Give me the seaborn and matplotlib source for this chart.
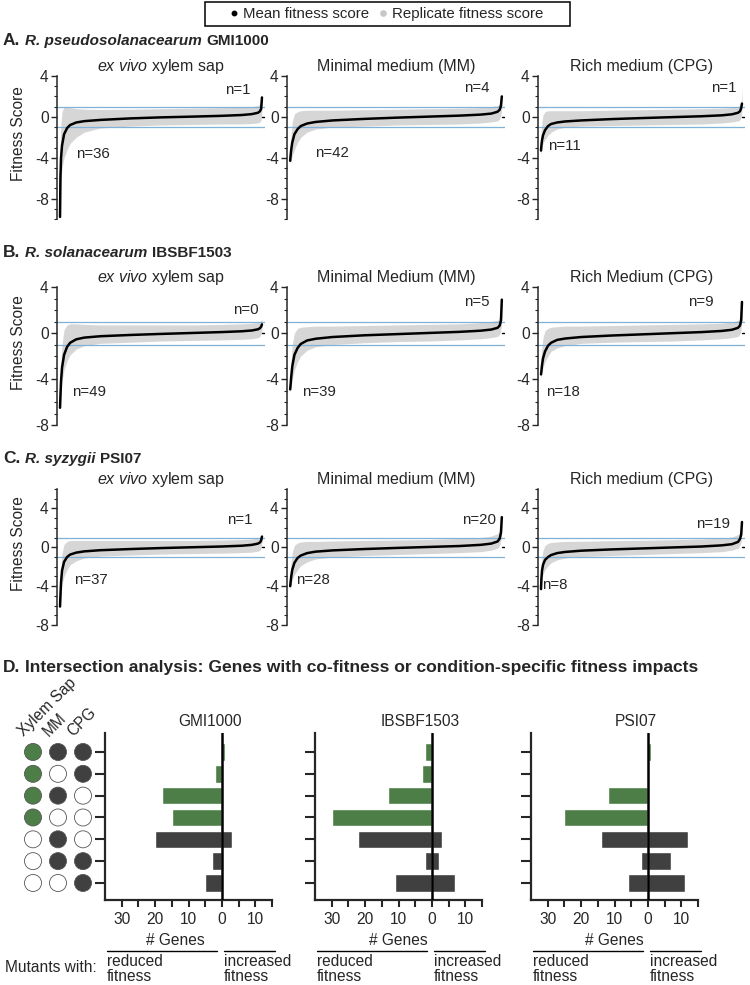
import matplotlib
matplotlib.use("Agg")
import matplotlib.pyplot as plt
import numpy as np
import pandas as pd
import seaborn as sns
from matplotlib.lines import Line2D
from matplotlib.patches import Rectangle
from matplotlib.ticker import MultipleLocator, FixedLocator, FuncFormatter

# ---------------------------------------------------------------- data
# rank fraction of genes (sorted by mean fitness) at which the curves were read
RANK = [0.0, 0.002, 0.005, 0.01, 0.02, 0.035, 0.05, 0.08, 0.12, 0.2,
        0.35, 0.5, 0.65, 0.8, 0.9, 0.95, 0.98, 0.99, 0.996, 1.0]

# A. GMI1000
GMI_XYLEM_MEAN = [-9.8, -6.0, -4.0, -2.8, -1.7, -1.1, -0.8, -0.55, -0.42, -0.3,
                  -0.15, -0.05, 0.02, 0.1, 0.18, 0.27, 0.4, 0.55, 0.8, 1.9]
GMI_XYLEM_LOW = [-10, -8, -6, -5, -4, -3.2, -2.6, -2.0, -1.5, -1.1,
                 -0.9, -0.8, -0.75, -0.7, -0.7, -0.65, -0.6, -0.5, -0.3, 0.5]
GMI_XYLEM_HIGH = [-4, -2, -0.6, 0.5, 1.0, 1.0, 0.9, 0.8, 0.75, 0.72,
                  0.75, 0.8, 0.85, 0.9, 0.95, 1.0, 1.1, 1.3, 1.6, 2.2]
GMI_MM_MEAN = [-4.3, -3.8, -3.2, -2.5, -1.7, -1.2, -0.9, -0.65, -0.5, -0.35,
               -0.2, -0.08, 0.02, 0.12, 0.22, 0.32, 0.5, 0.7, 1.1, 2.0]
GMI_MM_LOW = [-4.6, -4.4, -4.2, -3.8, -3.2, -2.5, -2.0, -1.5, -1.2, -1.0,
              -0.9, -0.8, -0.75, -0.7, -0.6, -0.5, -0.4, -0.2, 0.2, 1.0]
GMI_MM_HIGH = [-3.5, -2.5, -1.5, -0.5, 0.3, 0.5, 0.6, 0.65, 0.65, 0.65,
               0.7, 0.75, 0.8, 0.85, 0.9, 1.0, 1.1, 1.3, 1.8, 2.3]
GMI_CPG_MEAN = [-3.3, -2.8, -2.3, -1.8, -1.3, -0.9, -0.7, -0.55, -0.45, -0.35,
                -0.22, -0.12, -0.03, 0.06, 0.15, 0.25, 0.4, 0.55, 0.85, 1.3]
GMI_CPG_LOW = [-3.8, -3.5, -3.0, -2.6, -2.2, -1.8, -1.5, -1.2, -1.0, -0.9,
               -0.85, -0.8, -0.75, -0.7, -0.6, -0.5, -0.4, -0.3, 0.0, 0.8]
GMI_CPG_HIGH = [-2.0, -1.2, -0.5, 0.2, 0.5, 0.6, 0.6, 0.6, 0.6, 0.6,
                0.65, 0.7, 0.75, 0.8, 0.85, 0.9, 1.0, 1.2, 1.4, 2.8]

# B. IBSBF1503
IBS_XYLEM_MEAN = [-6.5, -5.5, -4.2, -3.0, -1.9, -1.2, -0.85, -0.55, -0.4, -0.28,
                  -0.17, -0.08, 0.0, 0.08, 0.15, 0.22, 0.32, 0.42, 0.55, 0.75]
IBS_XYLEM_LOW = [-6.8, -6.2, -5.2, -4.2, -3.2, -2.4, -1.9, -1.4, -1.1, -0.9,
                 -0.8, -0.7, -0.65, -0.6, -0.55, -0.5, -0.4, -0.3, -0.1, 0.3]
IBS_XYLEM_HIGH = [-5.5, -4.0, -2.5, -1.0, 0.3, 0.7, 0.8, 0.8, 0.75, 0.7,
                  0.7, 0.7, 0.7, 0.75, 0.8, 0.85, 0.9, 1.0, 1.1, 1.2]
IBS_MM_MEAN = [-4.9, -4.5, -3.8, -2.9, -1.9, -1.3, -0.95, -0.65, -0.5, -0.35,
               -0.2, -0.1, 0.0, 0.1, 0.2, 0.3, 0.45, 0.65, 1.1, 2.9]
IBS_MM_LOW = [-5.2, -5.0, -4.6, -4.0, -3.2, -2.5, -2.0, -1.5, -1.2, -1.0,
              -0.85, -0.75, -0.7, -0.6, -0.5, -0.4, -0.3, -0.1, 0.3, 1.5]
IBS_MM_HIGH = [-4.0, -3.2, -2.2, -1.0, 0.0, 0.4, 0.5, 0.55, 0.6, 0.6,
               0.65, 0.7, 0.75, 0.8, 0.9, 1.0, 1.1, 1.3, 1.8, 3.0]
IBS_CPG_MEAN = [-3.6, -3.3, -2.8, -2.2, -1.6, -1.1, -0.85, -0.6, -0.48, -0.35,
                -0.22, -0.12, -0.02, 0.08, 0.18, 0.28, 0.45, 0.65, 1.1, 2.7]
IBS_CPG_LOW = [-4.0, -3.8, -3.4, -3.0, -2.5, -2.0, -1.6, -1.3, -1.1, -0.9,
               -0.8, -0.75, -0.7, -0.6, -0.5, -0.4, -0.3, -0.1, 0.3, 1.5]
IBS_CPG_HIGH = [-2.5, -1.8, -1.2, -0.4, 0.2, 0.4, 0.5, 0.55, 0.6, 0.6,
                0.65, 0.7, 0.75, 0.8, 0.85, 0.95, 1.1, 1.3, 1.8, 2.9]

# C. PSI07
PSI_XYLEM_MEAN = [-6.1, -5.0, -3.6, -2.4, -1.5, -1.0, -0.75, -0.55, -0.42, -0.3,
                  -0.18, -0.08, 0.0, 0.08, 0.16, 0.25, 0.38, 0.5, 0.7, 1.1]
PSI_XYLEM_LOW = [-6.4, -5.8, -4.8, -3.8, -3.0, -2.3, -1.8, -1.4, -1.1, -0.9,
                 -0.8, -0.7, -0.65, -0.6, -0.55, -0.5, -0.4, -0.3, -0.1, 0.5]
PSI_XYLEM_HIGH = [-5.0, -3.5, -2.0, -0.6, 0.3, 0.6, 0.7, 0.7, 0.7, 0.7,
                  0.7, 0.7, 0.7, 0.75, 0.8, 0.85, 0.95, 1.05, 1.2, 1.5]
PSI_MM_MEAN = [-4.0, -3.6, -3.0, -2.3, -1.6, -1.1, -0.85, -0.6, -0.45, -0.32,
               -0.18, -0.07, 0.03, 0.13, 0.25, 0.38, 0.6, 0.9, 1.5, 3.1]
PSI_MM_LOW = [-4.4, -4.2, -3.8, -3.3, -2.8, -2.3, -1.9, -1.5, -1.2, -1.0,
              -0.85, -0.75, -0.65, -0.55, -0.45, -0.3, -0.1, 0.2, 0.7, 2.0]
PSI_MM_HIGH = [-3.0, -2.2, -1.4, -0.5, 0.2, 0.45, 0.55, 0.6, 0.6, 0.65,
               0.7, 0.75, 0.8, 0.9, 1.0, 1.15, 1.4, 1.8, 2.4, 3.3]
PSI_CPG_MEAN = [-4.3, -3.2, -2.4, -1.8, -1.3, -1.0, -0.8, -0.6, -0.48, -0.35,
                -0.22, -0.12, -0.02, 0.08, 0.2, 0.32, 0.55, 0.85, 1.3, 2.6]
PSI_CPG_LOW = [-4.6, -4.0, -3.4, -2.8, -2.3, -1.9, -1.6, -1.3, -1.1, -0.95,
               -0.85, -0.75, -0.65, -0.55, -0.45, -0.3, -0.1, 0.2, 0.6, 1.8]
PSI_CPG_HIGH = [-3.0, -2.0, -1.0, -0.3, 0.2, 0.4, 0.5, 0.55, 0.6, 0.62,
                0.68, 0.72, 0.78, 0.85, 0.95, 1.05, 1.3, 1.6, 2.1, 2.9]

# number of genes below / above the thresholds (per row: xylem, MM, CPG)
N_LOW = [[36, 42, 11], [49, 39, 18], [37, 28, 8]]
N_HIGH = [[1, 4, 1], [0, 5, 9], [1, 20, 19]]

STRAIN_TITLES = [("A.", "R. pseudosolanacearum", "GMI1000"),
                 ("B.", "R. solanacearum", "IBSBF1503"),
                 ("C.", "R. syzygii", "PSI07")]
CONDITIONS = [[r"$\mathit{ex\ vivo}$ xylem sap", "Minimal medium (MM)", "Rich medium (CPG)"],
              [r"$\mathit{ex\ vivo}$ xylem sap", "Minimal Medium (MM)", "Rich Medium (CPG)"],
              [r"$\mathit{ex\ vivo}$ xylem sap", "Minimal medium (MM)", "Rich medium (CPG)"]]

# D. intersection analysis
ROW_LABELS = ["Xylem+MM+CPG", "Xylem+CPG", "Xylem+MM", "Xylem", "MM", "MM+CPG", "CPG"]
XYLEM = [1, 1, 1, 1, 0, 0, 0]
MM = [1, 0, 1, 0, 1, 1, 0]
CPG = [1, 1, 0, 0, 0, 1, 1]
SET_NAMES = ["Xylem Sap", "MM", "CPG"]
STRAINS = ["GMI1000", "IBSBF1503", "PSI07"]
GMI_REDUCED = [0, 2, 18, 15, 20, 3, 5]
GMI_INCREASED = [1, 0, 0, 0, 3, 0, 0]
IBS_REDUCED = [2, 3, 13, 30, 22, 2, 11]
IBS_INCREASED = [0, 0, 0, 0, 3, 2, 7]
PSI_REDUCED = [0, 0, 12, 25, 14, 2, 6]
PSI_INCREASED = [1, 0, 0, 0, 12, 7, 11]

# ---------------------------------------------------------------- style
sns.set_theme(style="ticks")
plt.rcParams['font.family'] = ['Liberation Sans', 'DejaVu Sans']
plt.rcParams['mathtext.fontset'] = 'custom'
plt.rcParams['mathtext.rm'] = 'Liberation Sans'
plt.rcParams['mathtext.it'] = 'Liberation Sans:italic'
plt.rcParams['mathtext.bf'] = 'Liberation Sans:bold'
plt.rcParams['axes.unicode_minus'] = False

GREEN = "#4e7e48"
DARK = "#404040"
BAND = "#d6d6d6"
BLUE = "#7fb2d6"
FS = 10.8

W, H, DPI = 750, 985, 100
fig = plt.figure(figsize=(W / DPI, H / DPI), dpi=DPI)
fig.patch.set_facecolor("white")


def add_ax(x0, y0, x1, y1):
    return fig.add_axes([x0 / W, 1 - y1 / H, (x1 - x0) / W, (y1 - y0) / H])


renderer = fig.canvas.get_renderer()


def rich(x_px, y_px, pieces):
    x = x_px
    for s, size, weight, style in pieces:
        t = fig.text(x / W, 1 - y_px / H, s, fontsize=size, fontweight=weight,
                     fontstyle=style, ha='left', va='baseline')
        w = t.get_window_extent(renderer).width
        x += w + 0.28 * size * DPI / 72


# ---------------------------------------------------------------- legend
fig.add_artist(Rectangle((205 / W, 1 - 26 / H), 365 / W, 24 / H, transform=fig.transFigure,
                         fill=False, ec='black', lw=1.1))
handles = [Line2D([], [], marker='o', ls='', color='black', markersize=3.2),
           Line2D([], [], marker='o', ls='', color='#c8c8c8', markersize=3.8)]
fig.legend(handles, ["Mean fitness score", "Replicate fitness score"], loc='center',
           bbox_to_anchor=(387 / W, 1 - 14 / H), ncol=2, frameon=False, fontsize=FS,
           handlelength=0.5, handletextpad=0.35, columnspacing=0.7)

# ---------------------------------------------------------------- panels A-C
MEANS = [[GMI_XYLEM_MEAN, GMI_MM_MEAN, GMI_CPG_MEAN],
         [IBS_XYLEM_MEAN, IBS_MM_MEAN, IBS_CPG_MEAN],
         [PSI_XYLEM_MEAN, PSI_MM_MEAN, PSI_CPG_MEAN]]
LOWS = [[GMI_XYLEM_LOW, GMI_MM_LOW, GMI_CPG_LOW],
        [IBS_XYLEM_LOW, IBS_MM_LOW, IBS_CPG_LOW],
        [PSI_XYLEM_LOW, PSI_MM_LOW, PSI_CPG_LOW]]
HIGHS = [[GMI_XYLEM_HIGH, GMI_MM_HIGH, GMI_CPG_HIGH],
         [IBS_XYLEM_HIGH, IBS_MM_HIGH, IBS_CPG_HIGH],
         [PSI_XYLEM_HIGH, PSI_MM_HIGH, PSI_CPG_HIGH]]

ROW_Y = [(76, 219), (287, 425), (489, 625)]
ROW_YLIM = [(-10, 4), (-8, 4), (-8, 6)]
TITLE_Y = [45, 257, 463]
COL_X = [(57, 265), (287, 505), (538, 745)]
NLOW_POS = [[(0.09, -3.6), (0.13, -3.5), (0.05, -2.9)],
            [(0.07, -5.1), (0.07, -5.1), (0.04, -5.1)],
            [(0.08, -3.4), (0.04, -3.4), (0.02, -3.9)]]
NHIGH_POS = [[(0.93, 2.6), (0.93, 2.8), (0.96, 2.8)],
             [(0.97, 2.0), (0.93, 2.7), (0.85, 2.7)],
             [(0.94, 2.8), (0.96, 2.8), (0.93, 2.4)]]

for r in range(3):
    lab, species, strain = STRAIN_TITLES[r]
    rich(3, TITLE_Y[r], [(lab, 12.5, 'bold', 'normal'),
                         (species, 11, 'bold', 'italic'),
                         (strain, 11, 'bold', 'normal')])
    for c in range(3):
        ax = add_ax(COL_X[c][0], ROW_Y[r][0], COL_X[c][1], ROW_Y[r][1])
        ax.fill_between(RANK, LOWS[r][c], HIGHS[r][c], color=BAND, lw=0, zorder=1)
        ax.axhline(1, color=BLUE, lw=0.9, zorder=2)
        ax.axhline(-1, color=BLUE, lw=0.9, zorder=2)
        sns.lineplot(x=RANK, y=MEANS[r][c], ax=ax, color='black', linewidth=1.8,
                     sort=False, zorder=3)
        ax.axhline(0, xmin=0.985, xmax=1.0, color='black', lw=1.0)
        ax.set_xlim(-0.015, 1.015)
        ax.set_ylim(*ROW_YLIM[r])
        ax.set_xticks([])
        for s in ['top', 'right', 'bottom']:
            ax.spines[s].set_visible(False)
        ax.spines['left'].set_linewidth(1.1)
        ax.yaxis.set_major_locator(FixedLocator([v for v in (4, 0, -4, -8) if ROW_YLIM[r][0] <= v <= ROW_YLIM[r][1]]))
        ax.yaxis.set_minor_locator(MultipleLocator(1))
        ax.tick_params(axis='y', which='major', length=4.5, width=1.0, labelsize=11.2, pad=1.5)
        ax.tick_params(axis='y', which='minor', length=2.5, width=0.8)
        ax.set_title(CONDITIONS[r][c], fontsize=11.5, pad=3.5)
        if c == 0:
            ax.set_ylabel("Fitness Score", fontsize=11.2)
            ax.yaxis.set_label_coords(-0.15, 0.6)
        else:
            ax.set_ylabel("")
        tr = ax.get_yaxis_transform()
        xl, yl = NLOW_POS[r][c]
        ax.text(xl, yl, f"n={N_LOW[r][c]}", transform=tr, fontsize=FS, ha='left', va='center')
        xh, yh = NHIGH_POS[r][c]
        ax.text(xh, yh, f"n={N_HIGH[r][c]}", transform=tr, fontsize=FS, ha='right', va='center')

# ---------------------------------------------------------------- panel D
rich(3, 672, [("D.", 12.5, 'bold', 'normal'),
              ("Intersection analysis: Genes with co-fitness or condition-specific fitness impacts",
               12.6, 'bold', 'normal')])

ROW_COLORS = [GREEN if x else DARK for x in XYLEM]
YLIM_D = (6.78, -0.87)

# dot matrix
axd = add_ax(15, 733, 101, 900)
dots = []
for ci, member in enumerate([XYLEM, MM, CPG]):
    for ri, m in enumerate(member):
        state = ("xylem" if ci == 0 else "on") if m else "off"
        dots.append({"col": ci, "row": ri, "state": state})
dots = pd.DataFrame(dots)
sns.scatterplot(data=dots, x="col", y="row", hue="state",
                palette={"xylem": GREEN, "on": DARK, "off": "white"},
                s=150, edgecolor="#555555", linewidth=0.6, legend=False, ax=axd)
axd.set_xlim(-0.72, 2.72)
axd.set_ylim(*YLIM_D)
axd.axis('off')
for ci, name in enumerate(SET_NAMES):
    axd.text(ci - 0.38, -0.7, name, rotation=45, rotation_mode='anchor',
             ha='left', va='baseline', fontsize=11.2)

BAR_DATA = [(GMI_REDUCED, GMI_INCREASED), (IBS_REDUCED, IBS_INCREASED), (PSI_REDUCED, PSI_INCREASED)]
BAR_X0 = [105, 315, 531]
XLABEL_X = [0.42, 0.5, 0.5]
pal = dict(zip(ROW_LABELS, ROW_COLORS))


def yax(px):
    return (900 - px) / 167.0


for i, strain in enumerate(STRAINS):
    red, inc = BAR_DATA[i]
    ax = add_ax(BAR_X0[i], 733, BAR_X0[i] + 167, 900)
    df = pd.DataFrame({"row": ROW_LABELS, "reduced": [-v for v in red], "increased": inc})
    sns.barplot(data=df, y="row", x="reduced", hue="row", palette=pal, legend=False,
                orient="h", width=0.8, saturation=1, ax=ax)
    sns.barplot(data=df, y="row", x="increased", hue="row", palette=pal, legend=False,
                orient="h", width=0.8, saturation=1, ax=ax)
    ax.axvline(0, color='black', lw=1.8, zorder=5)
    ax.set_xlim(-35, 15)
    ax.set_ylim(*YLIM_D)
    ax.set_yticks(range(len(ROW_LABELS)))
    ax.set_yticklabels([])
    ax.set_ylabel("")
    ax.xaxis.set_major_locator(FixedLocator(list(range(-30, 16, 5))))
    ax.xaxis.set_major_formatter(FuncFormatter(
        lambda v, p: f"{abs(int(round(v)))}" if int(round(v)) % 10 == 0 else ""))
    ax.tick_params(axis='x', length=5, width=1.5, labelsize=11.2, pad=4)
    ax.tick_params(axis='y', length=7, width=1.5)
    for s in ['top', 'right']:
        ax.spines[s].set_visible(False)
    for s in ['left', 'bottom']:
        ax.spines[s].set_linewidth(1.6)
    ax.set_xlabel("# Genes", fontsize=11.2, labelpad=0)
    ax.xaxis.set_label_coords(XLABEL_X[i], -0.2)
    ax.xaxis.label.set_va('top')
    ax.set_title(strain, fontsize=11.2, x=0.63, pad=5)
    tr = ax.get_xaxis_transform()
    ax.plot([-34.5, -1.5], [yax(951)] * 2, transform=tr, clip_on=False, color='black', lw=1)
    ax.plot([0.5, 16], [yax(951)] * 2, transform=tr, clip_on=False, color='black', lw=1)
    ax.text(-34.5, yax(954), "reduced\nfitness", transform=tr, ha='left', va='top',
            fontsize=11.2, linespacing=1.0)
    ax.text(0.5, yax(954), "increased\nfitness", transform=tr, ha='left', va='top',
            fontsize=11.2, linespacing=1.0)

fig.text(5 / W, 1 - 968 / H, "Mutants with:", fontsize=11.2, ha='left', va='center')

fig.savefig("out.png", dpi=DPI, facecolor="white")
